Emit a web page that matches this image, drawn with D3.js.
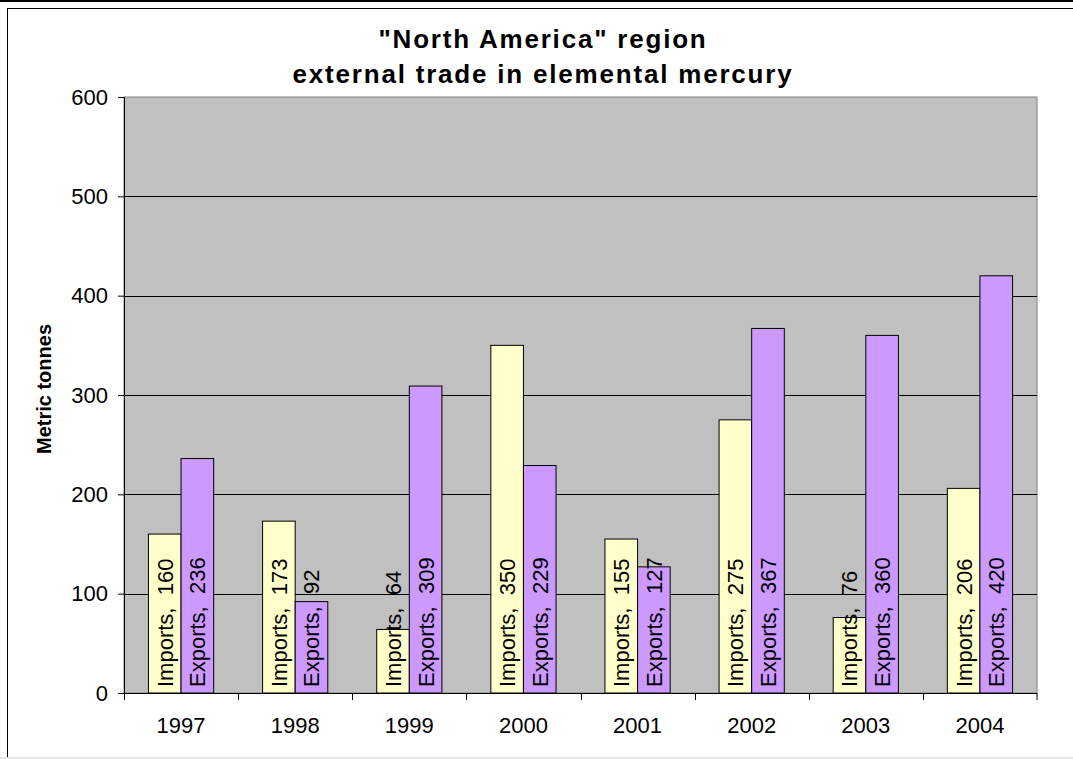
<!doctype html>
<html>
<head>
<meta charset="utf-8">
<style>
  body { margin: 0; background: #fff; }
  text { font-family: Arial, "Liberation Sans", sans-serif; }
</style>
<script src="https://d3js.org/d3.v7.min.js"></script>
</head>
<body>
<svg id="chart" width="1073" height="759"></svg>
<script>
// data
var years = ["1997", "1998", "1999", "2000", "2001", "2002", "2003", "2004"];
var imports = [160, 173, 64, 350, 155, 275, 76, 206];
var exports = [236, 92, 309, 229, 127, 367, 360, 420];
var series = ["Imports", "Exports"];
var yTicks = [0, 100, 200, 300, 400, 500, 600];

var colors = { Imports: "#FFFFCC", Exports: "#CC99FF" };

var svg = d3.select("#chart");
var pL = 124, pR = 1037, pT = 97, pB = 693;

// frame
svg.append("line").attr("x1", 0).attr("x2", 1073).attr("y1", 1).attr("y2", 1)
   .attr("stroke", "#000").attr("stroke-width", 2);
svg.append("rect").attr("x", 7.5).attr("y", 8.5).attr("width", 1100).attr("height", 800)
   .attr("fill", "#fff").attr("stroke", "#000");
svg.append("line").attr("x1", 0).attr("x2", 1073).attr("y1", 758).attr("y2", 758)
   .attr("stroke", "#e6e6e6").attr("stroke-width", 2);

// title
var title = svg.append("text").attr("text-anchor", "middle")
   .attr("font-size", "26px").attr("font-weight", "bold").attr("letter-spacing", "1.8px");
title.append("tspan").attr("x", 543).attr("y", 48).text("\"North America\" region");
title.append("tspan").attr("x", 543).attr("y", 83).text("external trade in elemental mercury");

var x = d3.scaleBand().domain(years).range([pL, pR]).padding(0);
var x1 = d3.scaleBand().domain(series).range([0, x.bandwidth()]).paddingInner(0).paddingOuter(0.75);
var y = d3.scaleLinear().domain([0, 600]).range([pB, pT]);

// plot area
svg.append("rect").attr("x", pL).attr("y", pT).attr("width", pR - pL).attr("height", pB - pT)
   .attr("fill", "#C0C0C0").attr("stroke", "#808080");

// gridlines
svg.append("g").selectAll("line").data(yTicks.filter(function(d) { return d > 0 && d < 600; }))
   .enter().append("line")
   .attr("x1", pL).attr("x2", pR)
   .attr("y1", function(d) { return Math.round(y(d)) + 0.5; })
   .attr("y2", function(d) { return Math.round(y(d)) + 0.5; })
   .attr("stroke", "#000");

// bars
var rows = years.map(function(yr, i) {
    return { year: yr, vals: [{ s: "Imports", v: imports[i] }, { s: "Exports", v: exports[i] }] };
});

var grp = svg.append("g").selectAll("g").data(rows).enter().append("g")
   .attr("transform", function(d) { return "translate(" + x(d.year) + ",0)"; });

grp.selectAll("rect").data(function(d) { return d.vals; }).enter().append("rect")
   .attr("x", function(d) { return x1(d.s); })
   .attr("y", function(d) { return y(d.v); })
   .attr("width", x1.bandwidth())
   .attr("height", function(d) { return pB - y(d.v); })
   .attr("fill", function(d) { return colors[d.s]; })
   .attr("stroke", "#000");

// value labels, written upward from the base of each bar
grp.selectAll("text").data(function(d) { return d.vals; }).enter().append("text")
   .attr("transform", function(d) {
       return "translate(" + (x1(d.s) + x1.bandwidth() / 2) + "," + (pB - 6) + ") rotate(-90)";
   })
   .attr("dy", "0.36em")
   .attr("font-size", "22px")
   .attr("xml:space", "preserve")
   .style("white-space", "pre")
   .text(function(d) { return d.s + ",  " + d.v; });

// y axis
var yAxis = svg.append("g").attr("transform", "translate(" + pL + ",0)")
   .call(d3.axisLeft(y).tickValues(yTicks).tickSize(6).tickPadding(10));
yAxis.select(".domain").attr("stroke", "#000");
yAxis.selectAll("text").attr("font-size", "22px").attr("fill", "#000")
   .style("font-family", "Arial, 'Liberation Sans', sans-serif");

// x axis
var xAxis = svg.append("g").attr("transform", "translate(0," + pB + ")")
   .call(d3.axisBottom(x).tickSize(0).tickPadding(24));
xAxis.select(".domain").attr("d", "M" + pL + ",0.5H" + pR).attr("stroke", "#000");
xAxis.selectAll("text").attr("font-size", "22px").attr("fill", "#000")
   .style("font-family", "Arial, 'Liberation Sans', sans-serif");

// category separator ticks
svg.append("g").selectAll("line").data(years.concat(["end"])).enter().append("line")
   .attr("x1", function(d) { return d === "end" ? pR : Math.round(x(d)) + 0.5; })
   .attr("x2", function(d) { return d === "end" ? pR : Math.round(x(d)) + 0.5; })
   .attr("y1", pB).attr("y2", pB + 7)
   .attr("stroke", "#000");

// y label
svg.append("text")
   .attr("transform", "translate(44,389) rotate(-90)")
   .attr("text-anchor", "middle").attr("dy", "0.36em")
   .attr("font-size", "20px").attr("font-weight", "bold")
   .text("Metric tonnes");
</script>
</body>
</html>
